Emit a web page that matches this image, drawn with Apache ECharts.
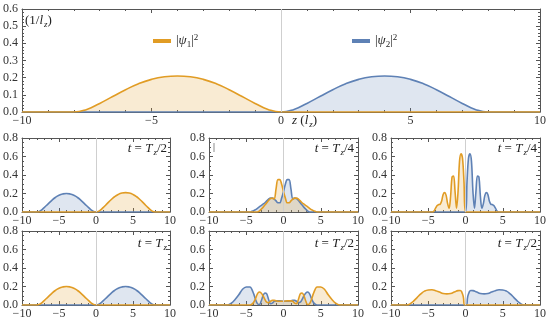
<!DOCTYPE html>
<html><head><meta charset="utf-8">
<script src="https://cdn.jsdelivr.net/npm/echarts@6/dist/echarts.min.js"></script>
<style>html,body{margin:0;padding:0;background:#fff}#c{width:550px;height:324px}</style>
</head><body><div id="c"></div>
<script>
// ---------- data ----------
const xTickValues = [-10, -5, 0, 5, 10];
const panelLabels = ['T/2', 'T/4', 'T/4', 'T', 'T/2', 'T/2'];

// shared z grid for the smooth single bumps
const zBump = [-10,-9,-8,-7.5,-7,-6.5,-6,-5.5,-5,-4.5,-4,-3.5,-3,-2.5,-2,-1.5,-1,-0.5,0,0.5,1,1.5,2,2.5,3,3.5,4,4.5,5,5.5,6,6.5,7,7.5,8,9,10];

// top panel (t = 0)
const topPsi1 = [0,0,0,0.015,0.05,0.09,0.13,0.165,0.19,0.205,0.21,0.205,0.19,0.165,0.13,0.09,0.05,0.015,0, 0,0,0,0,0,0,0,0,0,0,0,0,0,0,0,0,0,0];
const topPsi2 = [0,0,0,0,0,0,0,0,0,0,0,0,0,0,0,0,0,0, 0,0.015,0.05,0.09,0.13,0.165,0.19,0.205,0.21,0.205,0.19,0.165,0.13,0.09,0.05,0.015,0,0,0];

// panel A: t = Tz/2
const aPsi2 = [0,0,0,0.014,0.048,0.086,0.124,0.157,0.181,0.195,0.2,0.195,0.181,0.157,0.124,0.086,0.048,0.014,0, 0,0,0,0,0,0,0,0,0,0,0,0,0,0,0,0,0,0];
const aPsi1 = [0,0,0,0,0,0,0,0,0,0,0,0,0,0,0,0,0,0, 0,0.015,0.05,0.09,0.13,0.165,0.19,0.205,0.21,0.205,0.19,0.165,0.13,0.09,0.05,0.015,0,0,0];

// panel B: t = Tz/4 (middle)
const zB = [-10,-5,-4.75,-4.5,-4.25,-4,-3.75,-3.5,-3.25,-3,-2.75,-2.5,-2.25,-2,-1.75,-1.5,-1.25,-1,-0.75,-0.5,-0.25,0,0.25,0.5,0.75,1,1.25,1.5,1.75,2,2.25,2.5,2.75,3,3.25,3.5,3.75,4,4.25,4.5,4.75,5,10];
const bPsi1 = [0, 0,0,0,0,0,0,0, 0.01,0.03,0.05,0.075,0.1,0.125,0.145,0.15,0.14,0.25,0.35,0.35,0.3, 0.22, 0.15,0.1,0.1,0.12,0.14,0.15,0.15,0.14,0.12,0.1,0.085,0.07,0.055,0.04,0.025,0.015,0.007,0,0,0, 0];
const bPsi2 = [0, 0,0,0,0.007,0.015,0.025,0.04,0.055,0.07,0.085,0.1,0.12,0.14,0.15,0.15,0.14,0.12,0.1,0.1,0.15, 0.22, 0.3,0.35,0.35,0.25,0.14,0.15,0.145,0.125,0.1,0.075,0.05,0.03,0.01,0,0,0,0,0,0,0, 0];

// panel C: t = Tz/4 (right)
const zC1 = [-10,-4.6,-4.4,-4.2,-4.0,-3.8,-3.6,-3.4,-3.2,-3.0,-2.8,-2.6,-2.4,-2.2,-2.0,-1.8,-1.6,-1.4,-1.2,-1.0,-0.8,-0.6,-0.4,-0.2,0,10];
const cPsi1 = [0,0,0,0.015,0.045,0.07,0.08,0.085,0.12,0.19,0.21,0.18,0.09,0.04,0.17,0.38,0.39,0.22,0.04,0.22,0.55,0.63,0.58,0.32,0,0];
const zC2 = [-10,0,0.2,0.4,0.6,0.8,1.0,1.2,1.4,1.6,1.8,2.0,2.2,2.4,2.6,2.8,3.0,3.2,3.4,3.6,3.8,4.0,4.2,4.4,4.6,10];
const cPsi2 = [0,0,0.32,0.58,0.63,0.55,0.22,0.04,0.22,0.39,0.38,0.17,0.04,0.09,0.18,0.21,0.19,0.12,0.085,0.08,0.07,0.045,0.015,0,0,0];

// panel D: t = Tz
const dPsi1 = [0,0,0,0.014,0.048,0.086,0.124,0.157,0.181,0.195,0.2,0.195,0.181,0.157,0.124,0.086,0.048,0.014,0, 0,0,0,0,0,0,0,0,0,0,0,0,0,0,0,0,0,0];
const dPsi2 = [0,0,0,0,0,0,0,0,0,0,0,0,0,0,0,0,0,0, 0,0.014,0.048,0.086,0.124,0.157,0.181,0.195,0.2,0.195,0.181,0.157,0.124,0.086,0.048,0.014,0,0,0];

// panel E: t = Tz/2 (middle)
const zE2 = [-10,-7.5,-7,-6.5,-6,-5.5,-5,-4.5,-4.25,-4,-3.75,-3.5,-3.25,-3,-2.75,-2.5,-2.25,-2,-1.75,-1.5,-1.25,-1,-0.5,0,0.5,1,1.25,1.5,1.75,2,2.25,2.5,2.75,3,3.25,3.5,3.75,4,4.25,4.5,10];
const ePsi2 = [0,0,0.02,0.06,0.11,0.17,0.195,0.195,0.17,0.12,0.06,0.015,0.005,0.04,0.1,0.13,0.12,0.06,0.015,0.02,0.04,0.045,0.045,0.04,0.04,0.045,0.05,0.05,0.04,0.025,0.03,0.06,0.1,0.13,0.14,0.12,0.07,0.03,0.008,0,0];
const zE1 = [-10,-4.5,-4.25,-4,-3.75,-3.5,-3.25,-3,-2.75,-2.5,-2.25,-2,-1.75,-1.5,-1.25,-1,-0.5,0,0.5,1,1.25,1.5,1.75,2,2.25,2.5,2.75,3,3.25,3.5,3.75,4,4.25,4.5,5,5.5,6,6.5,7,7.5,10];
const ePsi1 = [0,0,0.008,0.03,0.07,0.12,0.14,0.13,0.1,0.06,0.03,0.025,0.04,0.05,0.05,0.045,0.04,0.04,0.045,0.045,0.04,0.02,0.015,0.06,0.12,0.13,0.1,0.04,0.005,0.015,0.06,0.12,0.17,0.195,0.195,0.17,0.11,0.06,0.02,0,0];

// panel F: t = Tz/2 (right)
const zF1 = [-10,-7.8,-7.5,-7,-6.5,-6,-5.5,-5,-4.5,-4,-3.5,-3,-2.5,-2,-1.5,-1,-0.7,-0.5,-0.3,-0.1,10];
const fPsi1 = [0,0,0.01,0.04,0.08,0.12,0.15,0.163,0.165,0.155,0.14,0.125,0.12,0.125,0.14,0.155,0.157,0.14,0.09,0,0];
const zF2 = [-10,0.1,0.3,0.5,0.7,1,1.5,2,2.5,3,3.5,4,4.5,5,5.5,6,6.5,7,7.5,7.8,10];
const fPsi2 = [0,0,0.09,0.14,0.157,0.155,0.14,0.125,0.12,0.125,0.14,0.155,0.165,0.163,0.15,0.12,0.08,0.04,0.01,0,0];

// ---------- styling / layout ----------
const FONT = 'Liberation Serif';
const FRAME = '#555';
const BLUE = '#5E81B5';
const ORANGE = '#E19C24';
const TXT = '#222';
const RICH = {
  n: {fontFamily: FONT, fontSize: 13, color: TXT, fontWeight: 'normal', lineHeight: 16},
  i: {fontFamily: FONT, fontSize: 13, color: TXT, fontWeight: 'normal', fontStyle: 'italic', lineHeight: 16},
  s: {fontFamily: FONT, fontSize: 9, color: TXT, fontWeight: 'normal', fontStyle: 'italic', lineHeight: 9, verticalAlign: 'bottom', padding: [0, 0, 0, 1]},
  sn: {fontFamily: FONT, fontSize: 9, color: TXT, fontWeight: 'normal', lineHeight: 9, verticalAlign: 'bottom'},
  p: {fontFamily: FONT, fontSize: 9, color: TXT, fontWeight: 'normal', lineHeight: 9, verticalAlign: 'top'}
};

const grids = [
  {left: 22, top: 9, width: 518, height: 103},
  {left: 21, top: 138, width: 149, height: 74},
  {left: 209, top: 138, width: 149, height: 74},
  {left: 391, top: 138, width: 149, height: 74},
  {left: 21, top: 231, width: 149, height: 74},
  {left: 209, top: 231, width: 149, height: 74},
  {left: 391, top: 231, width: 149, height: 74}
];

const minusFmt = v => v < 0 ? '\u2212' + (-v) : String(v);
function xAx(g, pos, labels) {
  return {type: 'value', gridIndex: g, position: pos, min: -10, max: 10, interval: 5,
    axisLine: {show: true, onZero: false, lineStyle: {color: FRAME, width: 1}},
    axisTick: {show: true, inside: true, length: 4, lineStyle: {color: FRAME}},
    minorTick: {show: true, splitNumber: 5, length: 2, lineStyle: {color: FRAME}},
    splitLine: {show: false},
    axisLabel: {show: labels, margin: 3, fontFamily: FONT, fontSize: 12, color: '#333', formatter: minusFmt}};
}
function yAx(g, pos, labels, max, interval, minor) {
  return {type: 'value', gridIndex: g, position: pos, min: 0, max: max, interval: interval,
    axisLine: {show: true, onZero: false, lineStyle: {color: FRAME, width: 1}},
    axisTick: {show: true, inside: true, length: 4, lineStyle: {color: FRAME}},
    minorTick: {show: true, splitNumber: minor, length: 2, lineStyle: {color: FRAME}},
    splitLine: {show: false},
    axisLabel: {show: labels, margin: 4, fontFamily: FONT, fontSize: 12, color: '#333', formatter: v => v.toFixed(1)}};
}

const xAxis = [], yAxis = [];
grids.forEach((g, k) => {
  xAxis.push(xAx(k, 'bottom', true));
  xAxis.push(xAx(k, 'top', false));
  const top = k === 0;
  yAxis.push(yAx(k, 'left', true, top ? 0.6 : 0.8, top ? 0.1 : 0.2, top ? 5 : 4));
  yAxis.push(yAx(k, 'right', false, top ? 0.6 : 0.8, top ? 0.1 : 0.2, top ? 5 : 4));
});

const pairs = (zs, vs) => zs.map((z, i) => [z, vs[i]]);
const panels = [
  [pairs(zBump, topPsi2), pairs(zBump, topPsi1)],
  [pairs(zBump, aPsi2), pairs(zBump, aPsi1)],
  [pairs(zB, bPsi2), pairs(zB, bPsi1)],
  [pairs(zC2, cPsi2), pairs(zC1, cPsi1)],
  [pairs(zBump, dPsi2), pairs(zBump, dPsi1)],
  [pairs(zE2, ePsi2), pairs(zE1, ePsi1)],
  [pairs(zF2, fPsi2), pairs(zF1, fPsi1)]
];
const series = [];
panels.forEach((p, k) => {
  const smooth = (k === 2 || k === 3 || k === 5) ? 0.35 : 0.5;
  series.push({name: 'p2', type: 'line', xAxisIndex: 2 * k, yAxisIndex: 2 * k, data: p[0],
    showSymbol: false, smooth: smooth, color: BLUE, lineStyle: {width: 1.6, color: BLUE},
    areaStyle: {color: BLUE, opacity: 0.2},
    markLine: {silent: true, symbol: ['none', 'none'], label: {show: false},
      lineStyle: {color: '#cfcfcf', width: 1, type: 'solid'}, data: [{xAxis: 0}]}});
  series.push({name: 'p1', type: 'line', xAxisIndex: 2 * k, yAxisIndex: 2 * k, data: p[1],
    showSymbol: false, smooth: smooth, color: ORANGE, lineStyle: {width: 1.6, color: ORANGE},
    areaStyle: {color: ORANGE, opacity: 0.2}});
});

function tLabel(frac) {
  const rest = frac.slice(1);
  return '{i|t}{n| = }{i|T}{s|z}' + (rest ? '{n|' + rest + '}' : '');
}
const labelPos = [
  {right: 550 - 167, top: 141}, {right: 550 - 354, top: 141}, {right: 550 - 537, top: 141},
  {right: 550 - 167, top: 236}, {right: 550 - 354, top: 236}, {right: 550 - 537, top: 236}
];
const titleStyle = {fontWeight: 'normal', fontFamily: FONT, fontSize: 13, color: TXT, rich: RICH};
const titles = labelPos.map((pos, i) => Object.assign({
  text: tLabel(panelLabels[i]), padding: 0, textStyle: titleStyle}, pos));
titles.push({text: '{n|(1/}{i|l}{s|z}{n|)}', left: 25, top: 13, padding: 0, textStyle: titleStyle});
titles.push({text: '{i|z}{n| (}{i|l}{s|z}{n|)}', left: 292, top: 113, padding: 0, textStyle: titleStyle});
titles.push({text: '|', left: 213, top: 142, padding: 0, textStyle: {fontFamily: FONT, fontSize: 10, fontWeight: 'normal', color: TXT}});

const legendBase = {icon: 'rect', itemWidth: 18, itemHeight: 4, selectedMode: false, padding: 0,
  textStyle: {fontFamily: FONT, fontSize: 13, color: TXT, rich: RICH},
  formatter: n => n === 'p1' ? '{n||}{i|ψ}{sn|1}{n||}{p|2}' : '{n||}{i|ψ}{sn|2}{n||}{p|2}'};

const chart = echarts.init(document.getElementById('c'), null, {renderer: 'canvas'});
chart.setOption({
  animation: false,
  backgroundColor: '#fff',
  title: titles,
  legend: [
    Object.assign({}, legendBase, {data: ['p1'], left: 153, top: 33}),
    Object.assign({}, legendBase, {data: ['p2'], left: 352, top: 33})
  ],
  grid: grids,
  xAxis: xAxis,
  yAxis: yAxis,
  series: series
});
</script></body></html>
